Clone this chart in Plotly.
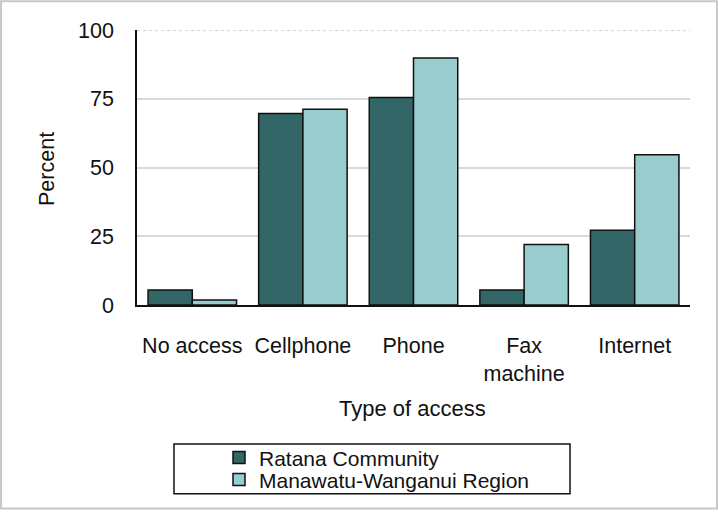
import plotly.graph_objects as go

categories = ["No access", "Cellphone", "Phone", "Fax<br>machine", "Internet"]
ratana = [5.5, 69.6, 75.5, 5.5, 27.2]
region = [1.8, 71.2, 89.8, 22.0, 54.6]
series_names = ["Ratana Community", "Manawatu-Wanganui Region"]
y_ticks = [0, 25, 50, 75, 100]

FONT = "Liberation Sans, Arial, sans-serif"
W, H = 718, 513
L, R, T, B = 137, 28, 30, 206
PW, PH = W - L - R, H - T - B

def px(x):
    return (x - L) / PW

def py(y):
    return (H - B - y) / PH

fig = go.Figure()
fig.add_trace(go.Bar(x=categories, y=ratana, name=series_names[0], legend="legend",
                     marker=dict(color="#336666", line=dict(color="#111111", width=1.5))))
fig.add_trace(go.Bar(x=categories, y=region, name=series_names[1], legend="legend2",
                     marker=dict(color="#99CCCC", line=dict(color="#111111", width=1.5))))

leg_common = dict(xanchor="left", yanchor="middle", bgcolor="rgba(0,0,0,0)",
                  borderwidth=0, font=dict(size=21), itemwidth=30)

fig.update_layout(
    width=W, height=H,
    margin=dict(l=L, r=R, t=T, b=B),
    paper_bgcolor="white", plot_bgcolor="white",
    barmode="group", bargap=0.2, bargroupgap=0,
    font=dict(family=FONT, size=21, color="#111111"),
    showlegend=True,
    legend=dict(x=px(219), y=py(461), **leg_common),
    legend2=dict(x=px(219), y=py(483), **leg_common),
    xaxis=dict(showline=True, linecolor="#111111", linewidth=1.5,
               ticks="", showgrid=False, ticklabelstandoff=20,
               tickfont=dict(size=21.5)),
    yaxis=dict(range=[0, 100], tickvals=y_ticks, showline=True,
               linecolor="#111111", linewidth=1.5, ticks="",
               showgrid=True, gridcolor="#d9d9d9", gridwidth=1.5,
               zeroline=False, ticklabelstandoff=17,
               tickfont=dict(size=21.5)),
    annotations=[
        dict(text="Percent", xref="paper", yref="paper", x=px(47), y=py(170),
             xanchor="center", yanchor="middle",
             textangle=-90, showarrow=False, font=dict(size=21.5)),
        dict(text="Type of access", xref="paper", yref="paper", x=px(412), y=py(411),
             xanchor="center", yanchor="middle",
             showarrow=False, font=dict(size=22)),
    ],
    shapes=[
        dict(type="line", xref="paper", yref="y", x0=0, x1=1, y0=100, y1=100,
             line=dict(color="white", width=3), layer="above"),
        dict(type="line", xref="paper", yref="y", x0=0, x1=1, y0=100, y1=100,
             line=dict(color="#c8c8c8", width=1.5, dash="dot"), layer="above"),
        dict(type="rect", xref="paper", yref="paper", x0=px(174), x1=px(570),
             y0=py(447), y1=py(497), line=dict(color="#111111", width=1.5)),
        dict(type="rect", xref="paper", yref="paper", x0=px(1), x1=px(717),
             y0=py(1), y1=py(512), line=dict(color="#c8c8c8", width=2)),
    ],
)

fig.write_html("out.html", config={"displayModeBar": False},
               post_script="document.body.style.margin='0';document.body.style.overflow='hidden';")
